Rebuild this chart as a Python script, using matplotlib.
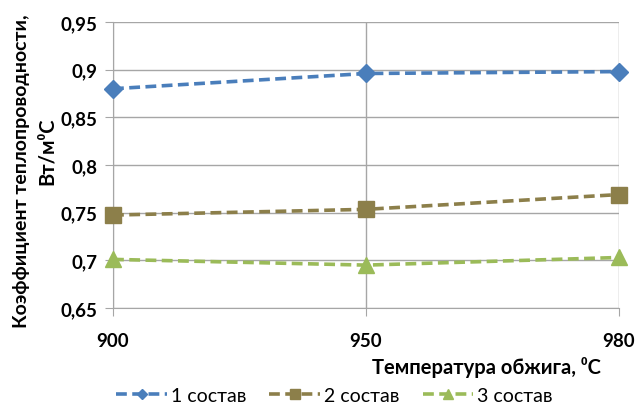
import numpy as np
import matplotlib.pyplot as plt
from matplotlib.ticker import FuncFormatter

plt.rcParams['font.family'] = ['Lato', 'Open Sans', 'DejaVu Sans']

temps = ['900', '950', '980']
sostav1 = [0.880, 0.896, 0.898]
sostav2 = [0.7475, 0.7535, 0.769]
sostav3 = [0.701, 0.695, 0.703]
names = ['1 состав', '2 состав', '3 состав']

colors = ['#4A7EBB', '#8C7F4A', '#9BBB59']
markers = ['D', 's', '^']
msizes = [9, 11, 11]

fig = plt.figure(figsize=(6.37, 4.06), dpi=100)
ax = fig.add_axes([0.1774, 0.2389, 0.7943, 0.7044])

x = np.arange(len(temps))
for ys, c, m, ms, name in zip([sostav1, sostav2, sostav3], colors, markers, msizes, names):
    ax.plot(x, ys, color=c, ls=(0, (3, 1.5)), lw=2.6, marker=m, ms=ms,
            label=name, clip_on=False, zorder=3)

ax.set_xlim(0, 2)
ax.set_ylim(0.65, 0.95)
ax.set_xticks(x)
ax.set_xticklabels(temps)
ax.set_yticks(np.arange(0.65, 0.951, 0.05))
ax.yaxis.set_major_formatter(FuncFormatter(lambda v, p: f'{v:.2f}'.rstrip('0').replace('.', ',')))

ax.grid(True, color='#A6A6A6', lw=1)
ax.set_axisbelow(True)
for s in ['top', 'right']:
    ax.spines[s].set_visible(False)
for s in ['left', 'bottom']:
    ax.spines[s].set_color('#A6A6A6')
ax.tick_params(axis='both', colors='#A6A6A6', length=6, labelcolor='black',
               labelsize=13.5)
ax.tick_params(axis='x', pad=11)
ax.tick_params(axis='y', pad=5)
for lab in ax.get_xticklabels() + ax.get_yticklabels():
    lab.set_fontweight('bold')

fig.text(0.0345, 0.579, 'Коэффициент теплопроводности,', rotation=90,
         ha='center', va='center', fontsize=14, fontweight='bold')
fig.text(0.0738, 0.628, 'Вт/м\u2070С', rotation=90,
         ha='center', va='center', fontsize=14.5, fontweight='bold')
fig.text(0.9435, 0.096, 'Температура обжига, \u2070С', ha='right', va='center',
         fontsize=14.5, fontweight='bold')

ax.legend(loc='center', bbox_to_anchor=(0.525, 0.024), bbox_transform=fig.transFigure,
          ncol=3, frameon=False, fontsize=14, handlelength=2.6, columnspacing=1.2,
          handletextpad=0.2, markerscale=0.6, borderpad=0)

fig.savefig('out.png', dpi=100)
